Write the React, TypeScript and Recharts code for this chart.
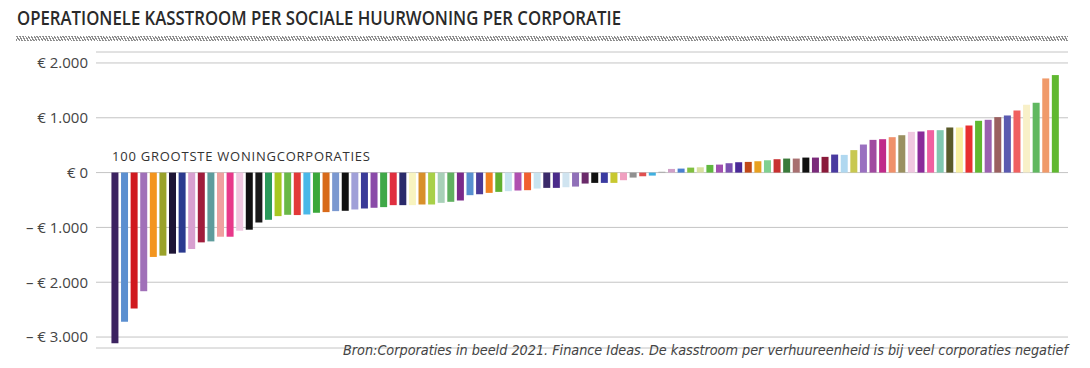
import { BarChart, Bar, Cell, XAxis, YAxis, CartesianGrid } from "recharts";

// operationele kasstroom per sociale huurwoning, gesorteerd (euro)
const kasstroom = [
  -3115, -2721, -2479, -2164, -1539, -1515, -1479, -1460, -1394, -1273,
  -1255, -1170, -1170, -1061, -1042, -909, -861, -794, -770, -775,
  -764, -733, -721, -703, -697, -673, -655, -642, -630, -594,
  -594, -594, -582, -582, -552, -533, -509, -412, -395, -370,
  -352, -339, -327, -321, -291, -279, -279, -267, -255, -200,
  -188, -188, -188, -139, -91, -67, -55, 15, 67, 73,
  91, 97, 140, 146, 171, 189, 195, 207, 225, 244,
  256, 256, 274, 274, 287, 329, 323, 410, 512, 597,
  609, 646, 682, 743, 750, 774, 774, 823, 823, 859,
  945, 963, 1012, 1042, 1133, 1237, 1274, 1718, 1779,
];

const kleuren = [
  "#3b2260", "#5b8fd0", "#d0191f", "#a070b8", "#f3951f", "#9aa22a", "#1e1535", "#2b3a8f", "#d8a0d0", "#a01c3c",
  "#5e9c9c", "#f0a0a0", "#e8388a", "#f0c8e0", "#111111", "#1a1a1a", "#2a9a5a", "#a8c820", "#6ab848", "#e23838",
  "#4ab8e8", "#3aa83a", "#d86a1a", "#7a98d0", "#111111", "#a0a0d8", "#3a3a98", "#8a4aa8", "#40a848", "#e03040",
  "#2a2a6a", "#f8f4c0", "#d8902a", "#a8d048", "#a8d0b8", "#60b060", "#7a2a8a", "#5890d0", "#4a3a98", "#f08020",
  "#60b030", "#c8e4f0", "#b050b0", "#f06030", "#c8e4f0", "#3a2a6a", "#4a2a8a", "#d0e4f0", "#9070b8", "#6a2a6a",
  "#111111", "#3a3aa0", "#c8c830", "#f0a0c0", "#909090", "#e05050", "#40b0e0", "#a0a0a0", "#d0a0c8", "#4a80d0",
  "#80c040", "#d8e0a0", "#60b840", "#a050b0", "#7a50b0", "#4a2a98", "#c04818", "#e8a020", "#80d090", "#c83030",
  "#3a7a3a", "#a87070", "#111111", "#7a2a7a", "#8a1a3a", "#4a3aa0", "#b0d8f0", "#c8c850", "#9a70c0", "#a04aa0",
  "#c02a8a", "#f0906a", "#9a9060", "#f0c8e0", "#8a2a9a", "#f060a0", "#80c8b0", "#5a5a2a", "#f8f0a0", "#e83030",
  "#60b830", "#9a60b0", "#9a6060", "#5a5ab0", "#f06060", "#f8f0c8", "#60b860", "#f09a6a", "#60b830",
];

const yTicks = [-3000, -2000, -1000, 0, 1000, 2000];

const data = kasstroom.map((v, i) => ({ corporatie: i + 1, kasstroom: v }));

function euro(v: number) {
  const s = Math.abs(v).toLocaleString("nl-NL");
  if (v === 0) return "€ 0";
  return v < 0 ? `– € ${s}` : `€ ${s}`;
}

export default function App() {
  return (
    <div style={{ position: "absolute", left: 0, top: 0, width: 1090, height: 368, background: "#fff" }}>
      <svg width={1090} height={368} style={{ position: "absolute", left: 0, top: 0 }}>
        <text
          x={17}
          y={25}
          textLength={604}
          lengthAdjust="spacingAndGlyphs"
          style={{ fontFamily: "'Open Sans'", fontSize: 19, fontWeight: 600, fill: "#2a2a2a" }}
        >
          OPERATIONELE KASSTROOM PER SOCIALE HUURWONING PER CORPORATIE
        </text>
      </svg>
      <div
        style={{
          position: "absolute",
          left: 16,
          top: 36,
          width: 1052,
          height: 5,
          background: "repeating-linear-gradient(60deg, #8e8e8e 0px, #8e8e8e 1.3px, #ffffff 1.3px, #ffffff 2.5px)",
        }}
      />
      <div style={{ position: "absolute", left: 0, top: 0 }}>
        <BarChart
          width={1090}
          height={368}
          data={data}
          margin={{ top: 52, right: 22, bottom: 20, left: 0 }}
          barCategoryGap="15%"
        >
          <CartesianGrid vertical={false} stroke="#c4c4c4" strokeWidth={1} />
          <XAxis dataKey="corporatie" hide padding={{ left: 14, right: 8 }} />
          <YAxis
            width={96}
            domain={[-3200, 2200]}
            ticks={yTicks}
            tickFormatter={euro}
            axisLine={false}
            tickLine={false}
            tick={{ fill: "#444", fontSize: 15, fontFamily: "'Open Sans'" }}
            allowDataOverflow
          />
          <Bar dataKey="kasstroom" isAnimationActive={false}>
            {data.map((d, i) => (
              <Cell key={`cell-${d.corporatie}`} fill={kleuren[i]} />
            ))}
          </Bar>
        </BarChart>
      </div>
      <svg width={1090} height={368} style={{ position: "absolute", left: 0, top: 0, pointerEvents: "none" }}>
        <text
          x={112}
          y={161}
          textLength={259}
          style={{ fontFamily: "'Open Sans'", fontSize: 13, letterSpacing: 1, fill: "#333" }}
        >
          100 GROOTSTE WONINGCORPORATIES
        </text>
        <text
          x={1068}
          y={355}
          textAnchor="end"
          textLength={725}
          lengthAdjust="spacingAndGlyphs"
          style={{ fontFamily: "'DejaVu Sans Condensed', 'DejaVu Sans'", fontSize: 14, fontStyle: "italic", fill: "#444" }}
        >
          Bron:Corporaties in beeld 2021. Finance Ideas. De kasstroom per verhuureenheid is bij veel corporaties negatief
        </text>
      </svg>
    </div>
  );
}
